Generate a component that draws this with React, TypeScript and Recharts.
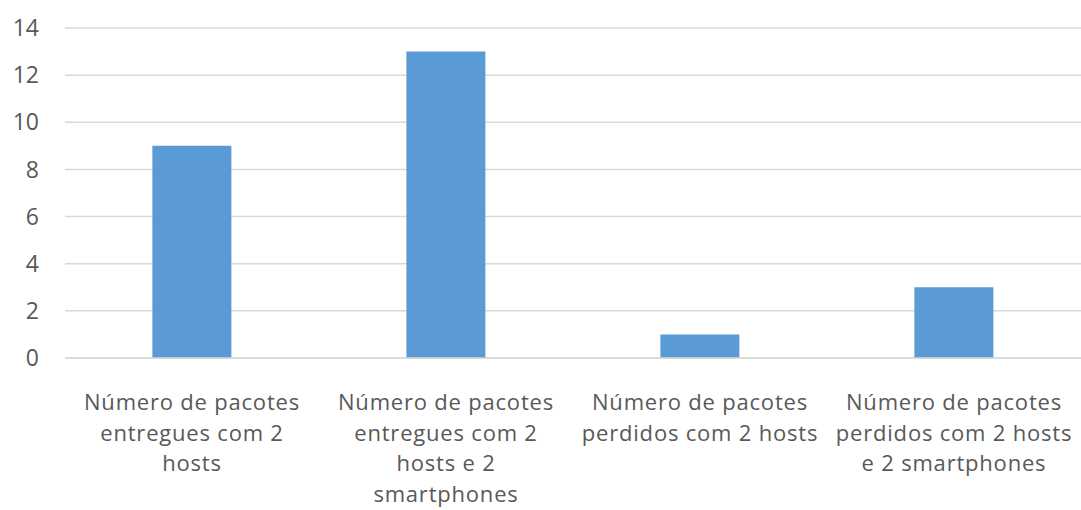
import React from 'react';
import { BarChart, Bar, XAxis, YAxis, CartesianGrid } from 'recharts';

const categories = [
  'Número de pacotes\nentregues com 2\nhosts',
  'Número de pacotes\nentregues com 2\nhosts e 2\nsmartphones',
  'Número de pacotes\nperdidos com 2 hosts',
  'Número de pacotes\nperdidos com 2 hosts\ne 2 smartphones',
];
const values = [9, 13, 1, 3];
const yTicks = [0, 2, 4, 6, 8, 10, 12, 14];

const data = categories.map((name, i) => ({ name, value: values[i] }));

const FONT = '"Open Sans", sans-serif';
const TEXT = '#595959';

// multi-line category labels, centred under each bar
const CategoryTick = (props: any) => {
  const { x, y, payload } = props;
  const lines = String(payload.value).split('\n');
  return (
    <text x={x} y={y} textAnchor="middle" fill={TEXT} fontFamily={FONT} fontSize={22} letterSpacing={0.8}>
      {lines.map((l, i) => (
        <tspan key={i} x={x} dy={i === 0 ? 52 : 30.5}>{l}</tspan>
      ))}
    </text>
  );
};

export default function App() {
  return (
    <div style={{ position: 'fixed', left: 0, top: 0, width: 1081, height: 510, background: '#fff' }}>
      <BarChart
        width={1081}
        height={510}
        data={data}
        margin={{ top: 28, right: 0, bottom: 0, left: 0 }}
        barCategoryGap="34.4%"
      >
        <CartesianGrid vertical={false} stroke="#d9d9d9" strokeWidth={1.5} />
        <XAxis
          dataKey="name"
          height={152}
          interval={0}
          tickLine={false}
          tickSize={0}
          tickMargin={0}
          axisLine={{ stroke: '#d9d9d9', strokeWidth: 1.5 }}
          tick={<CategoryTick />}
        />
        <YAxis
          width={65}
          domain={[0, 14]}
          ticks={yTicks}
          interval={0}
          axisLine={false}
          tickLine={false}
          tickSize={0}
          tickMargin={26}
          tick={{ fill: TEXT, fontFamily: FONT, fontSize: 23 }}
        />
        <Bar dataKey="value" fill="#5b9bd5" isAnimationActive={false} />
      </BarChart>
    </div>
  );
}
